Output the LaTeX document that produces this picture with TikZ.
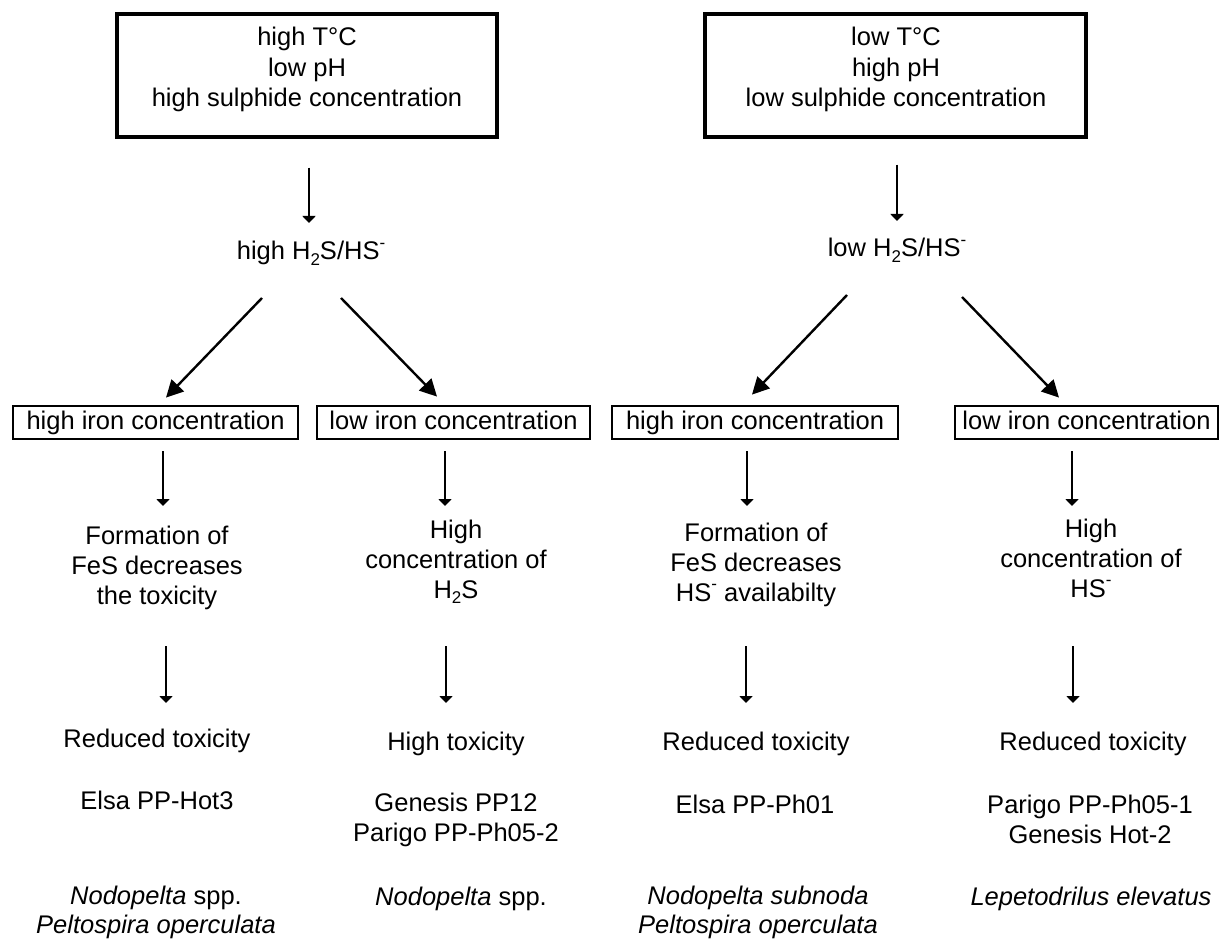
\documentclass[tikz,border=0pt]{standalone}
\usepackage{fontspec}
\setmainfont{Liberation Sans}
\usetikzlibrary{arrows.meta}
\newcommand{\subtwo}{\raisebox{-0.22em}{\fontsize{17}{17}\selectfont 2}}
\newcommand{\supminus}{\raisebox{0.45em}{\fontsize{17}{17}\selectfont -}}
\begin{document}
\begin{tikzpicture}[x=1pt,y=-1pt,
  every node/.style={font=\fontsize{25.5}{30.5}\selectfont, text=black},
  txt/.style={anchor=base, align=center, inner sep=0pt},
  topbox/.style={draw, line width=3.2pt, minimum width=#1, minimum height=123pt, inner sep=0pt},
  ironbox/.style={draw, line width=2.8pt, minimum width=#1, minimum height=33pt, inner sep=0pt, text height=18.5pt, text depth=5.4pt},
  arrs/.style={-{Triangle[width=13pt,length=7pt]}, line width=2.2pt},
  diag/.style={-{Triangle[width=17pt,length=17pt]}, line width=2.4pt}
]
\useasboundingbox (0,0) rectangle (1223,941);

% top boxes
\node[topbox=380pt] (hotbox) at (307,75.5) {};
\node[txt] (hottxt) at (307,107) {high T°C\\low pH\\high sulphide concentration};
\node[topbox=381pt] (coldbox) at (895.5,75.5) {};
\node[txt] (coldtxt) at (896,107) {low T°C\\high pH\\low sulphide concentration};

% H2S level
\node[txt] (hh) at (311,260) {high H\subtwo S/HS\supminus};
\node[txt] (lh) at (897,257) {low H\subtwo S/HS\supminus};

% iron boxes
\node[ironbox=285pt] (i1) at (155.5,422.5) {high iron concentration};
\node[ironbox=273pt] (i2) at (453.5,422.5) {low iron concentration};
\node[ironbox=286pt] (i3) at (755,422.5) {high iron concentration};
\node[ironbox=263pt] (i4) at (1086.5,422.5) {low iron concentration};

% mechanisms (anchored at last baseline)
\node[txt, font=\fontsize{25.5}{30}\selectfont] (f1) at (157,604) {Formation of\\FeS decreases\\the toxicity};
\node[txt, font=\fontsize{25.5}{30}\selectfont] (f2) at (456,598) {High\\concentration of\\H\subtwo S};
\node[txt, font=\fontsize{25.5}{30}\selectfont] (f3) at (756,601) {Formation of\\FeS decreases\\HS\supminus\ availabilty};
\node[txt, font=\fontsize{25.5}{30}\selectfont] (f4) at (1091,597) {High\\concentration of\\HS\supminus};

% toxicity
\node[txt] (r1) at (157,747) {Reduced toxicity};
\node[txt] (r2) at (456,750) {High toxicity};
\node[txt] (r3) at (756,750) {Reduced toxicity};
\node[txt] (r4) at (1093,750) {Reduced toxicity};

% sites
\node[txt] (s1) at (157,809) {Elsa PP-Hot3};
\node[txt, font=\fontsize{25.5}{29.5}\selectfont] (s2) at (456,841) {Genesis PP12\\Parigo PP-Ph05-2};
\node[txt] (s3) at (755,813) {Elsa PP-Ph01};
\node[txt, font=\fontsize{25.5}{29.5}\selectfont] (s4) at (1090,843) {Parigo PP-Ph05-1\\Genesis Hot-2};

% species
\node[txt, font=\fontsize{25.5}{28.5}\selectfont] (p1) at (156,933) {\textit{Nodopelta} spp.\\\textit{Peltospira operculata}};
\node[txt] (p2) at (461,905) {\textit{Nodopelta} spp.};
\node[txt, font=\fontsize{25.5}{28.5}\selectfont] (p3) at (758,933) {\textit{Nodopelta subnoda}\\\textit{Peltospira operculata}};
\node[txt] (p4) at (1091,905) {\textit{Lepetodrilus elevatus}};

% arrows
\draw[arrs] ([shift={(2,29)}]hotbox.south) -- ([shift={(-2,-37)}]hh.base);
\draw[arrs] ([shift={(1.5,26)}]coldbox.south) -- ([shift={(0,-36)}]lh.base);

\draw[diag] ([shift={(-49,38)}]hh.base) -- ([shift={(10.5,-7)}]i1.north);
\draw[diag] ([shift={(30,38)}]hh.base) -- ([shift={(-16.5,-8)}]i2.north);
\draw[diag] ([shift={(-50,38)}]lh.base) -- ([shift={(-3,-10)}]i3.north);
\draw[diag] ([shift={(65,40)}]lh.base) -- ([shift={(-27.5,-7)}]i4.north);

\draw[arrs] ([shift={(7.5,11)}]i1.south) -- ([shift={(6,-98)}]f1.base);
\draw[arrs] ([shift={(-8.5,11)}]i2.south) -- ([shift={(-11,-92)}]f2.base);
\draw[arrs] ([shift={(-8,11)}]i3.south) -- ([shift={(-9,-95)}]f3.base);
\draw[arrs] ([shift={(-14.5,11)}]i4.south) -- ([shift={(-19,-91)}]f4.base);

\draw[arrs] ([shift={(9,42)}]f1.base) -- ([shift={(9,-44)}]r1.base);
\draw[arrs] ([shift={(-10,48)}]f2.base) -- ([shift={(-10,-47)}]r2.base);
\draw[arrs] ([shift={(-10,45)}]f3.base) -- ([shift={(-10,-47)}]r3.base);
\draw[arrs] ([shift={(-18,49)}]f4.base) -- ([shift={(-20,-47)}]r4.base);
\end{tikzpicture}
\end{document}
